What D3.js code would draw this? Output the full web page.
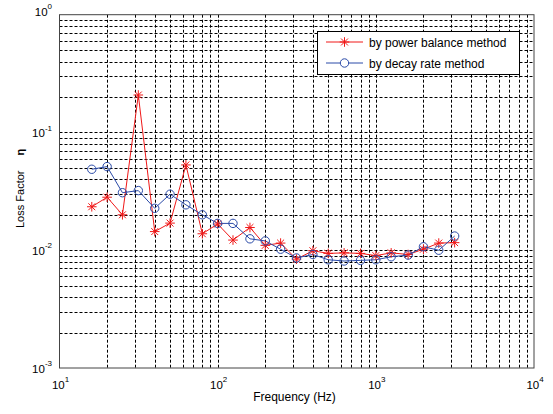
<!DOCTYPE html>
<html><head><meta charset="utf-8">
<script src="https://cdn.jsdelivr.net/npm/d3@7"></script>
<style>body{margin:0;background:#fff}svg{display:block}text{font-family:"Liberation Sans",Arial,sans-serif;fill:#000}</style>
</head><body>
<svg id="c" width="553" height="414"></svg>
<script>
const freqs = [16,20,25,31.5,40,50,63,80,100,125,160,200,250,315,400,500,630,800,1000,1250,1600,2000,2500,3150];
const powerBalance = [0.0234,0.0282,0.0200,0.208,0.0144,0.0170,0.053,0.0138,0.0167,0.0122,0.0156,0.0110,0.0115,0.0084,0.0099,0.0094,0.0095,0.0094,0.0090,0.0095,0.0092,0.0102,0.0115,0.0116];
const decayRate = [0.0487,0.0513,0.0308,0.0321,0.0227,0.0299,0.0243,0.0200,0.0169,0.0169,0.0125,0.0120,0.0102,0.0086,0.0092,0.0083,0.0081,0.0082,0.0083,0.0088,0.0091,0.0107,0.0100,0.0132];
const xTickExp = [1,2,3,4];
const yTickExp = [-3,-2,-1,0];
const seriesNames = ["by power balance method","by decay rate method"];

const svg = d3.select("#c");
const L=59.5,R=534,T=14.7,B=368;
const x = d3.scaleLog().domain([10,1e4]).range([L,R]);
const y = d3.scaleLog().domain([1e-3,1]).range([B,T]);

// grid
const xg=[],yg=[];
for(let e=1;e<4;e++) for(let m=1;m<10;m++){ if(!(e==1&&m==1)) xg.push(m*Math.pow(10,e)); }
for(let e=-3;e<0;e++) for(let m=1;m<10;m++){ if(!(e==-3&&m==1)) yg.push(m*Math.pow(10,e)); }
const g=svg.append("g");
g.selectAll(".gx").data(xg).enter().append("line")
 .attr("x1",d=>Math.round(x(d))+0.5).attr("x2",d=>Math.round(x(d))+0.5).attr("y1",T).attr("y2",B)
 .attr("stroke","#000").attr("stroke-width",1).attr("stroke-dasharray","3,2");
g.selectAll(".gy").data(yg).enter().append("line")
 .attr("y1",d=>Math.round(y(d))+0.5).attr("y2",d=>Math.round(y(d))+0.5).attr("x1",L).attr("x2",R)
 .attr("stroke","#000").attr("stroke-width",1).attr("stroke-dasharray","3,2");

// frame
svg.append("rect").attr("x",L).attr("y",T).attr("width",R-L).attr("height",B-T)
 .attr("fill","none").attr("stroke","#444").attr("stroke-width",1);

// tick labels
const xl=svg.append("g");
xTickExp.forEach(e=>{
  const t=xl.append("text").attr("x",x(Math.pow(10,e))+1).attr("y",388.5).attr("text-anchor","middle").attr("font-size",11.5);
  t.append("tspan").text("10");
  t.append("tspan").attr("dy",-6.5).attr("font-size",8).text(e);
});
yTickExp.forEach(e=>{
  const yy = e===0 ? 15.5 : y(Math.pow(10,e))+4.7;
  const t=xl.append("text").attr("x",52).attr("y",yy).attr("text-anchor","end").attr("font-size",11.5);
  t.append("tspan").text("10");
  t.append("tspan").attr("dy",-6.5).attr("font-size",8).text(e);
});

// axis titles
svg.append("text").attr("x",294.5).attr("y",401).attr("text-anchor","middle").attr("font-size",12).text("Frequency (Hz)");
svg.append("text").attr("transform","translate(24,228) rotate(-90)").attr("text-anchor","start").attr("font-size",11).text("Loss Factor");
svg.append("text").attr("transform","translate(24,155.5) rotate(-90)").attr("text-anchor","start").attr("font-size",11).attr("font-weight","bold").text("η");

const red="#f01818", blue="#2a4aa8";
const line=d3.line().x(d=>x(d[0])).y(d=>y(d[1]));
const pb=freqs.map((f,i)=>[f,powerBalance[i]]);
const dr=freqs.map((f,i)=>[f,decayRate[i]]);

function star(sel,cx,cy,c){
  const s=4.8, d=s*0.72;
  const p=`M${cx-s},${cy}L${cx+s},${cy}M${cx},${cy-s}L${cx},${cy+s}M${cx-d},${cy-d}L${cx+d},${cy+d}M${cx-d},${cy+d}L${cx+d},${cy-d}`;
  sel.append("path").attr("d",p).attr("stroke",c).attr("stroke-width",1).attr("fill","none");
}
svg.append("path").datum(pb).attr("d",line).attr("fill","none").attr("stroke",red).attr("stroke-width",1);
svg.append("path").datum(dr).attr("d",line).attr("fill","none").attr("stroke",blue).attr("stroke-width",1);
const mk=svg.append("g");
pb.forEach(d=>star(mk,x(d[0]),y(d[1]),red));
mk.selectAll("circle").data(dr).enter().append("circle").attr("cx",d=>x(d[0])).attr("cy",d=>y(d[1])).attr("r",4.2)
 .attr("fill","none").attr("stroke",blue).attr("stroke-width",1);

// legend
const lg=svg.append("g");
lg.append("rect").attr("x",317.5).attr("y",31.5).attr("width",202).attr("height",43).attr("fill","#fff").attr("stroke","#000").attr("stroke-width",1);
lg.append("line").attr("x1",326).attr("x2",363).attr("y1",42).attr("y2",42).attr("stroke",red);
star(lg,344.5,42,red);
lg.append("line").attr("x1",326).attr("x2",363).attr("y1",63).attr("y2",63).attr("stroke",blue);
lg.append("circle").attr("cx",344.5).attr("cy",63).attr("r",4.2).attr("fill","#fff").attr("stroke",blue);
lg.append("text").attr("x",369).attr("y",46.5).attr("font-size",12).text(seriesNames[0]);
lg.append("text").attr("x",369).attr("y",67.5).attr("font-size",12).text(seriesNames[1]);
</script>
</body></html>
